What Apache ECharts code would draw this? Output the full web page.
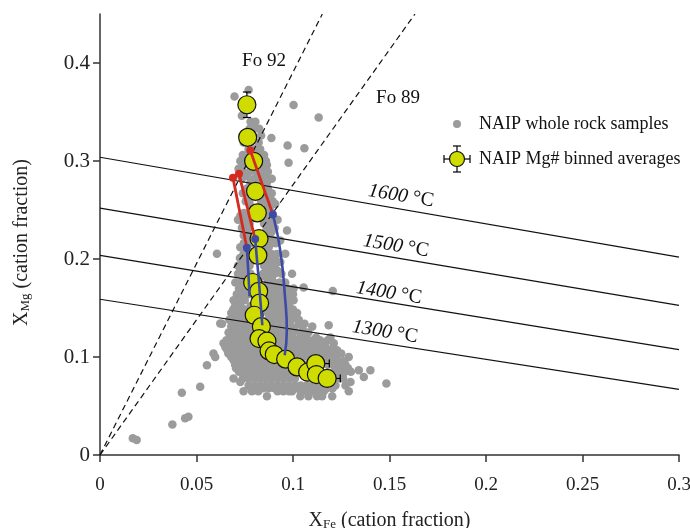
<!DOCTYPE html>
<html><head><meta charset="utf-8">
<script src="https://cdn.jsdelivr.net/npm/echarts@6/dist/echarts.min.js"></script>
<style>html,body{margin:0;padding:0;background:#fff}#c{width:690px;height:528px}</style>
</head><body><div id="c"></div>
<script>
// ---- tick labels ----
const xTicks = [0, 0.05, 0.1, 0.15, 0.2, 0.25, 0.3];
const yTicks = [0, 0.1, 0.2, 0.3, 0.4];

// ---- binned averages (yellow) ----
const avgX = [0.0761,0.0765,0.0796,0.0806,0.0815,0.0824,0.0818,0.0791,0.0822,0.0827,0.0799,0.0836,0.0824,0.0865,0.0876,0.0903,0.0962,0.1021,0.1076,0.1118,0.1121,0.1177];
const avgY = [0.3574,0.3241,0.2997,0.2691,0.2471,0.2207,0.2037,0.1760,0.1670,0.1550,0.1426,0.1310,0.1188,0.1161,0.1062,0.1025,0.0978,0.0899,0.0845,0.0933,0.0821,0.0781];
const errX = [0,0,0,0,0,0,0,0,0,0,0,0,0,0,0,0,0,0,0,0.007,0,0.0068];
const errY = [0.013,0.008,0,0,0,0,0,0,0,0,0,0,0,0,0,0,0,0,0,0,0,0.008];

// ---- whole rock samples (gray) ----
const grayOutliers = [
 [0.017,0.017],[0.019,0.0153],[0.0375,0.0312],[0.0441,0.0374],[0.0458,0.039],[0.0424,0.0635],
 [0.0519,0.0696],[0.0554,0.0916],[0.0588,0.1036],[0.0623,0.1341],[0.0606,0.2054],[0.1484,0.073],
 [0.1401,0.0866],[0.1341,0.0866],[0.1367,0.0797],[0.1206,0.1673],[0.1185,0.1324],[0.1055,0.1708],
 [0.1003,0.3571],[0.1133,0.3445],[0.0888,0.3235],[0.0972,0.3157],[0.1059,0.3129],[0.0977,0.2981],
 [0.0697,0.3659],[0.0770,0.3724],[0.0969,0.2291],[0.0735,0.3462],[0.0995,0.185],[0.096,0.2054]
];
// rows: [y, list of x]
const grayRows = [
 [0.340,[0.078,0.0805]],
 [0.333,[0.0775,0.080,0.0825]],
 [0.326,[0.0755,0.0785,0.0835]],
 [0.319,[0.0744,0.0822]],
 [0.312,[0.077,0.080,0.083]],
 [0.306,[0.074,0.0765,0.0815,0.085]],
 [0.300,[0.0727,0.0755,0.0835,0.086]],
 [0.296,[0.0745,0.081,0.0865]],
 [0.292,[0.0718,0.079,0.0848]],
 [0.289,[0.074,0.0775,0.081,0.087]],
 [0.285,[0.0761,0.083,0.0856]],
 [0.282,[0.0735,0.080,0.0845,0.089]],
 [0.278,[0.0779,0.083,0.0865]],
 [0.272,[0.0761,0.0839,0.087]],
 [0.267,[0.074,0.077,0.0855,0.089]],
 [0.262,[0.078,0.085,0.088]],
 [0.259,[0.0755,0.0835,0.0895]],
 [0.256,[0.0775,0.087,0.0908]],
 [0.250,[0.079,0.085,0.088]],
 [0.247,[0.0745,0.0775,0.0845,0.0875]],
 [0.244,[0.0727,0.0765,0.086,0.089]],
 [0.240,[0.0715,0.075,0.0855,0.0895,0.092]],
 [0.236,[0.0744,0.0775,0.085,0.088]],
 [0.232,[0.0735,0.077,0.0865,0.0905]],
 [0.228,[0.076,0.086,0.089]],
 [0.224,[0.0745,0.0775,0.085,0.088]],
 [0.219,[0.078,0.087,0.090,0.0934]],
 [0.216,[0.0745,0.079,0.0885,0.091]],
 [0.212,[0.0727,0.075,0.084,0.0874]],
 [0.205,[0.0744,0.0765,0.086,0.089,0.0917]],
 [0.201,[0.0725,0.0755,0.0845,0.0875,0.0905]],
 [0.197,[0.0744,0.078,0.085,0.0882,0.0934]],
 [0.193,[0.0715,0.0745,0.0775,0.085,0.0875,0.0905]],
 [0.188,[0.0727,0.0755,0.086,0.0891,0.092]],
 [0.185,[0.0715,0.0745,0.078,0.0845,0.0875,0.0905,0.094]],
 [0.181,[0.0753,0.079,0.083,0.0865,0.089]],
 [0.176,[0.0701,0.073,0.076,0.087,0.090,0.093,0.096]],
 [0.170,[0.072,0.075,0.085,0.0882,0.091,0.0943,0.097,0.1003]],
 [0.164,[0.0709,0.074,0.077,0.086,0.088,0.0908,0.094,0.097,0.100]],
 [0.158,[0.0692,0.072,0.075,0.086,0.089,0.0917,0.0951,0.097,0.1003]],
 [0.152,[0.070,0.0727,0.078,0.086,0.089,0.092,0.095,0.098]],
 [0.1485,[0.069,0.072,0.075,0.088,0.091,0.094,0.097,0.100]],
 [0.145,[0.068,0.071,0.074,0.077,0.087,0.090,0.093,0.096,0.099,0.1021]],
 [0.1415,[0.0685,0.0715,0.0745,0.0775,0.0885,0.0915,0.0945,0.0975,0.1005]],
 [0.138,[0.067,0.070,0.073,0.076,0.079,0.087,0.090,0.093,0.096,0.099,0.103]],
 [0.134,[0.0632,0.1029,0.106]],
 [0.131,[0.068,0.071,0.074,0.077,0.080,0.087,0.090,0.093,0.096,0.099,0.110]],
 [0.128,[0.069,0.072,0.075,0.078,0.0885,0.0915,0.0945,0.0975,0.1005,0.105]],
 [0.125,[0.0666,0.070,0.073,0.076,0.079,0.088,0.091,0.094,0.097,0.100,0.104,0.108]],
 [0.120,[0.068,0.071,0.074,0.077,0.091,0.094,0.097,0.100,0.1038,0.107,0.112,0.1194]],
 [0.117,[0.0655,0.0685,0.0715,0.0745,0.0775,0.0805,0.0955,0.0985,0.1015,0.1045,0.1075,0.1105,0.114,0.118]],
 [0.114,[0.064,0.067,0.070,0.073,0.076,0.079,0.093,0.096,0.099,0.102,0.105,0.108,0.1125,0.116,0.1211]],
 [0.110,[0.065,0.068,0.071,0.074,0.077,0.080,0.0955,0.0985,0.1015,0.1045,0.1075,0.1105,0.1135,0.117,0.121]],
 [0.107,[0.066,0.069,0.072,0.075,0.078,0.081,0.094,0.097,0.100,0.103,0.106,0.109,0.112,0.115,0.119,0.1228]],
 [0.1035,[0.0665,0.0695,0.0725,0.0755,0.0785,0.0815,0.0845,0.1005,0.1035,0.1065,0.1095,0.1125,0.1155,0.120,0.125]],
 [0.100,[0.0597,0.068,0.071,0.074,0.077,0.080,0.083,0.086,0.099,0.102,0.105,0.108,0.111,0.114,0.118,0.122,0.1289]],
 [0.0967,[0.0692,0.0709]],
 [0.096,[0.0735,0.0765,0.0795,0.0825,0.0855,0.0885,0.0915,0.1115,0.1145,0.1175,0.1205,0.1235,0.1265]],
 [0.092,[0.070,0.073,0.076,0.079,0.082,0.085,0.088,0.091,0.103,0.106,0.118,0.121,0.124,0.1272]],
 [0.0885,[0.0705,0.0735,0.0765,0.0795,0.0825,0.0855,0.0885,0.0915,0.0945,0.0975,0.1225,0.1255,0.1285]],
 [0.085,[0.072,0.075,0.078,0.081,0.084,0.087,0.090,0.093,0.096,0.099,0.121,0.124,0.127,0.130]],
 [0.0815,[0.0755,0.0785,0.0815,0.0845,0.0875,0.0905,0.0935,0.0965,0.0995,0.1225,0.1255]],
 [0.078,[0.0692,0.074,0.077,0.080,0.083,0.086,0.089,0.092,0.095,0.098,0.101,0.120,0.123,0.126]],
 [0.0746,[0.0727,0.1298]],
 [0.071,[0.077,0.080,0.083,0.086,0.089,0.092,0.095,0.098,0.101,0.104,0.107,0.110,0.113,0.116,0.119,0.122,0.1272]],
 [0.068,[0.0785,0.0845,0.0875,0.0905,0.0935,0.0965,0.1025,0.1055,0.1085,0.1115,0.1145,0.1175,0.1205]],
 [0.065,[0.0744,0.0787,0.082,0.092,0.095,0.098,0.0995,0.104,0.107,0.110,0.113,0.116,0.1289]],
 [0.060,[0.0865,0.1038,0.108,0.1125,0.1151,0.1203]]
];

// ---- isotherms ----
const tempNames = ['1600', '1500', '1400', '1300'];
const tempLeftY = [0.3038, 0.2519, 0.2037, 0.1589];   // at x = 0
const tempRightY = [0.2019, 0.1527, 0.1076, 0.0669];  // at x = 0.3

// ---- olivine Fo lines (through origin, end at top of axis) ----
const foNames = ['Fo 92', 'Fo 89'];
const foTopX = [0.1152, 0.1632];   // x where the line reaches y = 0.45
const foTopY = 0.45;

// ---- model paths ----
const redTop = [[0.0689,0.2828],[0.0720,0.2869],[0.0779,0.3106]];
const blueStart = [[0.0761,0.2115],[0.0804,0.2203],[0.0896,0.2454]];
const bluePaths = [
 [[0.0761,0.2115],[0.0768,0.1884],[0.0775,0.1619]],
 [[0.0804,0.2203],[0.0823,0.1782],[0.0841,0.1324]],
 [[0.0896,0.2454],[0.0934,0.2088],[0.0960,0.1578],[0.0968,0.1273],[0.0957,0.1018]]
];

const FONT = 'Liberation Serif';
const grayData = grayOutliers.slice();
grayRows.forEach(r => r[1].forEach(x => grayData.push([x, r[0]])));

const RED = '#d42a20', BLUE = '#3d4aa6', YEL = '#cfdc00', GRAY = '#9b9b9b';

const series = [];
series.push({ type: 'scatter', name: 'NAIP whole rock samples', data: grayData, symbolSize: 8.5,
  itemStyle: { color: GRAY, opacity: 1 }, z: 1, silent: true });
tempNames.forEach((n, i) => series.push({ type: 'line', data: [[0, tempLeftY[i]], [0.3, tempRightY[i]]],
  symbol: 'none', lineStyle: { color: '#111', width: 1.2 }, z: 2, silent: true }));
foNames.forEach((n, i) => series.push({ type: 'line', data: [[0, 0], [foTopX[i], foTopY]],
  symbol: 'none', lineStyle: { color: '#111', width: 1.2, type: [6, 4] }, z: 2, silent: true }));
series.push({ type: 'custom', z: 3, silent: true,
  data: avgX.map((x, i) => [x, avgY[i], errX[i], errY[i]]),
  renderItem: (params, api) => {
    const x = api.value(0), y = api.value(1), ex = api.value(2), ey = api.value(3);
    const ch = [], cap = 4, st = { stroke: '#000', lineWidth: 1.2 };
    if (ex > 0) {
      const a = api.coord([x - ex, y]), b = api.coord([x + ex, y]);
      ch.push({ type: 'line', shape: { x1: a[0], y1: a[1], x2: b[0], y2: b[1] }, style: st });
      ch.push({ type: 'line', shape: { x1: a[0], y1: a[1] - cap, x2: a[0], y2: a[1] + cap }, style: st });
      ch.push({ type: 'line', shape: { x1: b[0], y1: b[1] - cap, x2: b[0], y2: b[1] + cap }, style: st });
    }
    if (ey > 0) {
      const a = api.coord([x, y - ey]), b = api.coord([x, y + ey]);
      ch.push({ type: 'line', shape: { x1: a[0], y1: a[1], x2: b[0], y2: b[1] }, style: st });
      ch.push({ type: 'line', shape: { x1: a[0] - cap, y1: a[1], x2: a[0] + cap, y2: a[1] }, style: st });
      ch.push({ type: 'line', shape: { x1: b[0] - cap, y1: b[1], x2: b[0] + cap, y2: b[1] }, style: st });
    }
    return { type: 'group', children: ch };
  } });
series.push({ type: 'scatter', name: 'NAIP Mg# binned averages', data: avgX.map((x, i) => [x, avgY[i]]),
  symbolSize: 18, itemStyle: { color: YEL, borderColor: '#111', borderWidth: 1.2, opacity: 1 }, z: 4, silent: true });
redTop.forEach((p, i) => series.push({ type: 'line', data: [p, blueStart[i]], symbol: 'none',
  lineStyle: { color: RED, width: 2.8 }, z: 5, silent: true }));
bluePaths.forEach(p => series.push({ type: 'line', data: p, smooth: 0.5, symbol: 'none',
  lineStyle: { color: BLUE, width: 2.6 }, z: 5, silent: true }));
series.push({ type: 'scatter', data: redTop, symbolSize: 8, itemStyle: { color: RED, opacity: 1 }, z: 6, silent: true });
series.push({ type: 'scatter', data: blueStart, symbolSize: 8, itemStyle: { color: BLUE, opacity: 1 }, z: 6, silent: true });

const tempPos = [[401, 196], [396, 246], [389, 293], [385, 332]];
const graphics = [];
tempNames.forEach((n, i) => graphics.push({ type: 'text', x: tempPos[i][0], y: tempPos[i][1], rotation: -0.16,
  style: { text: '{i|' + n + '} °C', align: 'center', verticalAlign: 'middle', fill: '#111',
    font: '20px "Liberation Serif"', rich: { i: { fontStyle: 'italic', fontSize: 20, fontFamily: FONT } } } }));
const foPos = [[264, 61], [398, 98]];
foNames.forEach((n, i) => graphics.push({ type: 'text', x: foPos[i][0], y: foPos[i][1],
  style: { text: n, align: 'center', verticalAlign: 'middle', fill: '#111', font: '19px "Liberation Serif"' } }));
// legend
graphics.push({ type: 'circle', shape: { cx: 457, cy: 124, r: 4 }, style: { fill: GRAY } });
graphics.push({ type: 'text', x: 479, y: 124, style: { text: 'NAIP whole rock samples', align: 'left', verticalAlign: 'middle', fill: '#111', font: '18px "Liberation Serif"' } });
const lst = { stroke: '#000', lineWidth: 1.2 };
graphics.push({ type: 'line', shape: { x1: 444, y1: 159, x2: 470, y2: 159 }, style: lst });
graphics.push({ type: 'line', shape: { x1: 444, y1: 155, x2: 444, y2: 163 }, style: lst });
graphics.push({ type: 'line', shape: { x1: 470, y1: 155, x2: 470, y2: 163 }, style: lst });
graphics.push({ type: 'line', shape: { x1: 457, y1: 146, x2: 457, y2: 172 }, style: lst });
graphics.push({ type: 'line', shape: { x1: 453, y1: 146, x2: 461, y2: 146 }, style: lst });
graphics.push({ type: 'line', shape: { x1: 453, y1: 172, x2: 461, y2: 172 }, style: lst });
graphics.push({ type: 'circle', shape: { cx: 457, cy: 159, r: 7.5 }, style: { fill: YEL, stroke: '#111', lineWidth: 1.2 } });
graphics.push({ type: 'text', x: 479, y: 159, style: { text: 'NAIP Mg# binned averages', align: 'left', verticalAlign: 'middle', fill: '#111', font: '18px "Liberation Serif"' } });

const axisCol = '#333';
const titleRich = {
  m: { fontSize: 20, fontFamily: FONT, lineHeight: 26, verticalAlign: 'bottom', color: '#222' },
  s: { fontSize: 13, fontFamily: FONT, lineHeight: 13, verticalAlign: 'bottom', color: '#222' }
};
const chart = echarts.init(document.getElementById('c'), null, { renderer: 'canvas' });
chart.setOption({
  animation: false,
  grid: { left: 100, right: 11, top: 14, bottom: 73, containLabel: false, outerBoundsMode: 'none' },
  xAxis: { type: 'value', min: 0, max: 0.3, interval: 0.05, splitLine: { show: false },
    axisLine: { show: true, lineStyle: { color: axisCol, width: 1.5 } },
    axisTick: { show: true, length: 7, customValues: xTicks, lineStyle: { color: axisCol, width: 1.5 } },
    axisLabel: { customValues: xTicks, margin: 21, fontSize: 19, color: '#222', fontFamily: FONT, formatter: v => String(v) },
    name: '{m|X}{s|Fe}{m| (cation fraction)}', nameLocation: 'middle', nameGap: 50,
    nameTextStyle: { fontFamily: FONT, color: '#222', rich: titleRich } },
  yAxis: { type: 'value', min: 0, max: 0.45, interval: 0.1, splitLine: { show: false },
    axisLine: { show: true, lineStyle: { color: axisCol, width: 1.5 } },
    axisTick: { show: true, length: 7, customValues: yTicks, lineStyle: { color: axisCol, width: 1.5 } },
    axisLabel: { customValues: yTicks, margin: 10, fontSize: 21, color: '#222', fontFamily: FONT, formatter: v => String(v) },
    name: '{m|X}{s|Mg}{m| (cation fraction)}', nameLocation: 'middle', nameGap: 68,
    nameTextStyle: { fontFamily: FONT, color: '#222', padding: [0, 16, 0, 0], rich: titleRich } },
  series: series,
  graphic: graphics
});
</script></body></html>
